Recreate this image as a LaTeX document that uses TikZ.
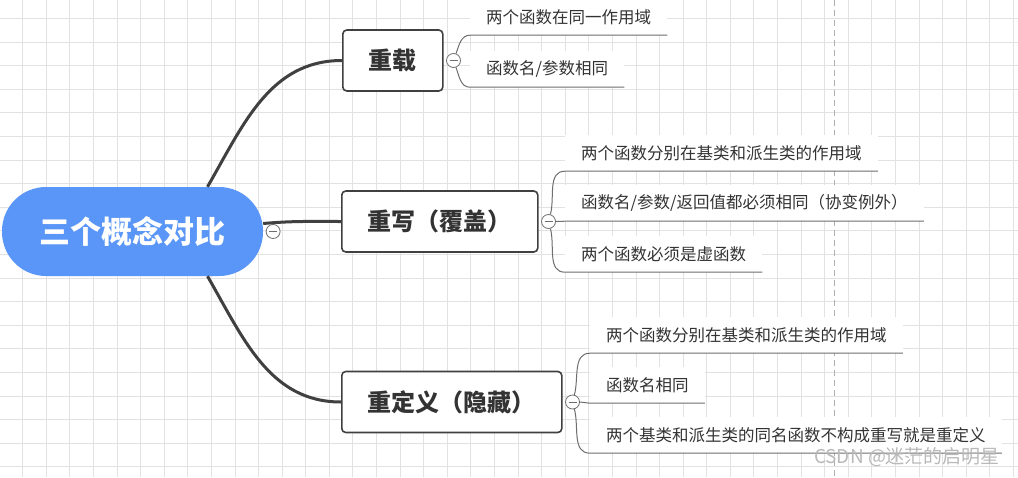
\documentclass[tikz,border=0pt]{standalone}
\usepackage{fontspec}
\setmainfont{Noto Sans CJK SC}
\usetikzlibrary{positioning}
\definecolor{mapBlue}{RGB}{89,150,247}
\definecolor{mapDark}{RGB}{64,64,64}
\definecolor{mapText}{RGB}{51,51,51}
\definecolor{mapLine}{RGB}{110,110,110}
\definecolor{mapGrid}{RGB}{226,226,226}
\definecolor{mapDash}{RGB}{175,175,175}
\definecolor{mapMark}{RGB}{185,185,185}

\begin{document}
\begin{tikzpicture}[x=1pt,y=-1pt,
  rootnode/.style={rectangle,rounded corners=44pt,fill=mapBlue,text=white,minimum width=261pt,minimum height=89pt,font=\fontsize{31}{36}\selectfont\bfseries},
  topic/.style={draw=mapDark,line width=1.6pt,rounded corners=4pt,fill=white,text=mapText,inner xsep=26pt,minimum height=61pt,anchor=west,font=\fontsize{24}{28}\selectfont\bfseries},
  leaf/.style={fill=white,text=mapText,inner xsep=16pt,minimum height=36pt,anchor=west,font=\fontsize{16.5}{20}\selectfont},
  fold/.style={circle,draw=mapLine,fill=white,line width=0.8pt,minimum size=14pt,inner sep=0pt,
    path picture={\draw[mapLine,line width=0.8pt] ([xshift=-4pt]path picture bounding box.center) -- ([xshift=4pt]path picture bounding box.center);}},
  branch/.style={mapDark,line width=3pt},
  leafline/.style={mapLine,line width=1pt},
  gridline/.style={mapGrid,line width=1pt}
]
  \fill[white] (0,0) rectangle (1018,477);
  \useasboundingbox (0,0) rectangle (1018,477);
  % grid paper
  \foreach \i in {0,...,42}
    \draw[gridline] ({22.7+23.59*\i},0) -- ({22.7+23.59*\i},477);
  \foreach \j in {0,...,19}
    \draw[gridline] (0,{18.5+23.6*\j}) -- (1018,{18.5+23.6*\j});
  \draw[mapDash,line width=1pt,dash pattern=on 6pt off 4pt] (834,0) -- (834,477);

  % root and main topics
  \node[rootnode] (root) at (132.5,231.5) {三个概念对比};
  \node[topic] (overload) at (342,60.5) {重载};
  \node[topic] (override) at (341,221.5) {重写（覆盖）};
  \node[topic] (redefine) at (341,402) {重定义（隐藏）};
  \node[fold,right=2.5pt of root] (foldroot) {};
  \node[fold,right=2.5pt of overload] (foldA) {};
  \node[fold,right=2.5pt of override] (foldB) {};
  \node[fold,right=2.5pt of redefine] (foldC) {};

  % leaves
  \node[leaf] (overloadA) at (470,17) {两个函数在同一作用域};
  \node[leaf] (overloadB) at (470,69) {函数名/参数相同};
  \node[leaf] (overrideA) at (565,153) {两个函数分别在基类和派生类的作用域};
  \node[leaf] (overrideB) at (565,203) {函数名/参数/返回值都必须相同（协变例外）};
  \node[leaf] (overrideC) at (565,254) {两个函数必须是虚函数};
  \node[leaf] (redefineA) at (590,335) {两个函数分别在基类和派生类的作用域};
  \node[leaf] (redefineB) at (590,385) {函数名相同};
  \node[leaf] (redefineC) at (590,435) {两个基类和派生类的同名函数不构成重写就是重定义};

  % branches
  \draw[branch] ([xshift=75pt]root.north) to[out=60,in=180] (overload.west);
  \draw[branch] ([yshift=8pt]root.east) to[out=5,in=180] (override.west);
  \draw[branch] ([xshift=75pt]root.south) to[out=-60,in=180] (redefine.west);

  \draw[leafline] (foldA) to[out=70,in=180] (overloadA.south west) -- (overloadA.south east);
  \draw[leafline] (foldA) to[out=-70,in=180] (overloadB.south west) -- (overloadB.south east);
  \draw[leafline] (foldB) to[out=75,in=180] (overrideA.south west) -- (overrideA.south east);
  \draw[leafline] (foldB.east) -- (overrideB.south west) -- (overrideB.south east);
  \draw[leafline] (foldB) to[out=-75,in=180] (overrideC.south west) -- (overrideC.south east);
  \draw[leafline] (foldC) to[out=75,in=180] (redefineA.south west) -- (redefineA.south east);
  \draw[leafline] (foldC.east) -- (redefineB.south west) -- (redefineB.south east);
  \draw[leafline] (foldC) to[out=-75,in=180] (redefineC.south west) -- (redefineC.south east);

  \node[text=mapMark,font=\fontsize{19}{22}\selectfont] (mark) at (907,457) {CSDN @迷茫的启明星};
\end{tikzpicture}
\end{document}
